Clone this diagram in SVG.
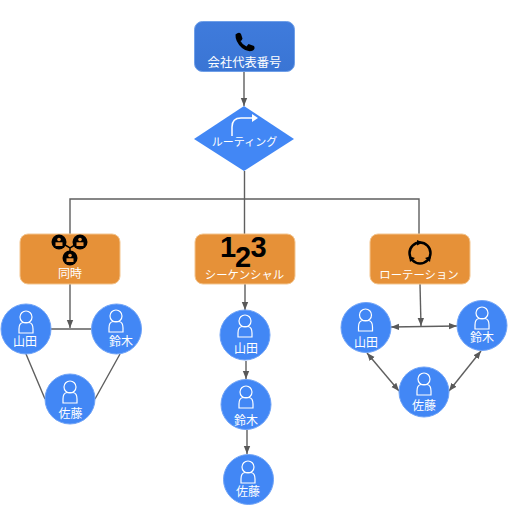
<svg xmlns="http://www.w3.org/2000/svg" width="510" height="509" viewBox="0 0 510 509">
<defs>
<linearGradient id="g" x1="0" y1="0" x2="0" y2="1"><stop offset="0" stop-color="#3f7bdc"/><stop offset="1" stop-color="#3a75d4"/></linearGradient>
<marker id="a" markerUnits="userSpaceOnUse" markerWidth="10" markerHeight="10" refX="8" refY="4" orient="auto-start-reverse"><path d="M0 0.800L8 4L0 7.200Z" fill="#595959"/></marker>
<g id="p" fill="none" stroke="#fff" stroke-width="1.200"><circle cx="0" cy="-7" r="6"/><path d="M-7 9V5Q-7 -1 -3 -1.500H3Q7 -1 7 5V9Z"/></g>
<g id="w"><circle r="7.500" fill="#000"/><circle cy="-2.500" r="1.800" fill="#e8913a"/><path d="M-3.500 4V0.300H3.500V4Z" fill="#e8913a"/></g>
</defs>
<style>
text{font-family:"Noto Sans CJK JP","Noto Sans",sans-serif;fill:#fff;text-anchor:middle;font-size:12px}
.k{font-size:11.400px}
.n{font-family:"Liberation Sans",sans-serif;font-weight:700;font-size:29px;fill:#000}
.o{fill:#e69138;stroke:#f3c58f;stroke-width:1}
.c{fill:#4287f5;stroke:#6fa3f7;stroke-width:1}
.l{fill:none;stroke:#5f5f5f;stroke-width:1.400}
</style>
<g id="connectors">
<path class="l" d="M244 72V106" marker-end="url(#a)"/>
<path class="l" d="M244.500 171V234M70 234V199H419V234"/>
<path class="l" d="M70 284V328" marker-end="url(#a)"/>
<path class="l" d="M51 329H91M26 354L45 399M120 354L95 399"/>
<path class="l" d="M245 284V310" marker-end="url(#a)"/>
<path class="l" d="M246 361V379" marker-end="url(#a)"/>
<path class="l" d="M247 430V454" marker-end="url(#a)"/>
<path class="l" d="M420 284L421 326" marker-end="url(#a)"/>
<path class="l" d="M391 327L457 326" marker-start="url(#a)" marker-end="url(#a)"/>
<path class="l" d="M367 353L399 391" marker-start="url(#a)" marker-end="url(#a)"/>
<path class="l" d="M481 351L449 391" marker-start="url(#a)" marker-end="url(#a)"/>
</g>
<g id="n-main">
<rect x="194.500" y="21.500" width="100" height="50" rx="8" fill="url(#g)" stroke="#6f9fe8"/>
<path d="M235.500 34.500Q239 31.500 241 34L242.500 38.500Q242 40.500 240.500 41Q242.500 45 246.500 46.500L248.500 44L254 46Q255.500 48.500 253 50.500Q248 53 242 48Q235 41.500 235.500 34.500Z" fill="#000"/>
<text x="244.500" y="67" style="font-size:12.300px">会社代表番号</text>
</g>
<g id="n-routing">
<path d="M244 106L294 139L244 171L194 139Z" fill="#4287f5"/>
<path d="M232 136V127Q232 118 241 118H254" fill="none" stroke="#fff" stroke-width="1.500"/>
<path d="M252 114L258 118L252 122Z" fill="#fff"/>
<text class="k" x="244.500" y="146" style="font-size:11px">ルーティング</text>
</g>
<g id="n-simul">
<rect class="o" x="20" y="234" width="100" height="50" rx="8"/>
<path d="M60 242L70 248L80 242M70 248V256" fill="none" stroke="#000" stroke-width="1.500"/>
<use href="#w" x="59" y="242"/><use href="#w" x="80" y="242"/><use href="#w" x="70" y="258"/>
<text x="70" y="278">同時</text>
</g>
<g id="n-seq">
<rect class="o" x="195" y="234" width="100" height="50" rx="8"/>
<text class="n" x="228" y="257">1</text>
<text class="n" x="243" y="267">2</text>
<text class="n" x="258.500" y="257">3</text>
<text class="k" x="244.500" y="279">シーケンシャル</text>
</g>
<g id="n-rot">
<rect class="o" x="370" y="234" width="100" height="50" rx="8"/>
<circle cx="420" cy="253" r="10.500" fill="none" stroke="#000" stroke-width="2.500"/>
<path d="M417 240L423 242.500L417 245.500ZM431 256L430 262L425 258ZM409 256L410 262L415 258Z" fill="#000"/>
<text class="k" x="419" y="279">ローテーション</text>
</g>
<g id="n-l1"><circle class="c" cx="26" cy="329" r="25"/><use href="#p" x="26" y="324"/><text x="25" y="346">山田</text></g>
<g id="n-l2"><circle class="c" cx="116.500" cy="329" r="25"/><use href="#p" x="116" y="323"/><text x="121" y="346">鈴木</text></g>
<g id="n-l3"><circle class="c" cx="70" cy="399" r="25"/><use href="#p" x="70" y="394"/><text x="70.500" y="418">佐藤</text></g>
<g id="n-s1"><circle class="c" cx="245" cy="335" r="25"/><use href="#p" x="245" y="328"/><text x="246" y="353">山田</text></g>
<g id="n-s2"><circle class="c" cx="246" cy="404.500" r="25"/><use href="#p" x="246" y="399"/><text x="246" y="425">鈴木</text></g>
<g id="n-s3"><circle class="c" cx="248.500" cy="479.500" r="25"/><use href="#p" x="248" y="474"/><text x="248" y="496">佐藤</text></g>
<g id="n-r1"><circle class="c" cx="366" cy="327.500" r="25"/><use href="#p" x="365.500" y="322"/><text x="366" y="347">山田</text></g>
<g id="n-r2"><circle class="c" cx="482" cy="325.500" r="25"/><use href="#p" x="482" y="320"/><text x="482" y="342">鈴木</text></g>
<g id="n-r3"><circle class="c" cx="424" cy="392" r="25"/><use href="#p" x="424" y="386"/><text x="424" y="410">佐藤</text></g>
</svg>
